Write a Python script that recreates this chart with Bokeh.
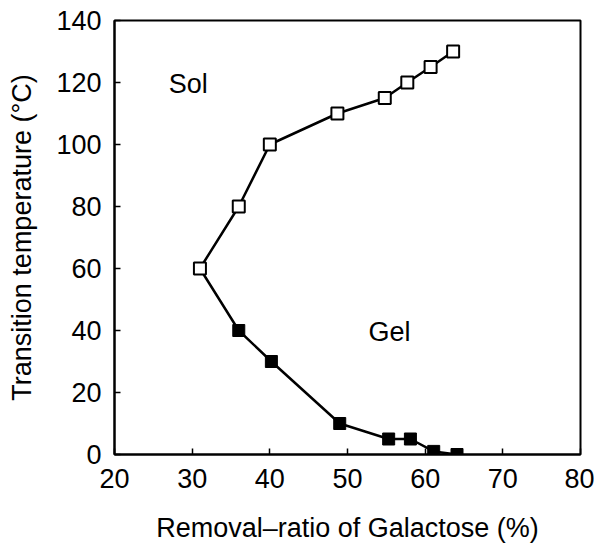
from bokeh.plotting import figure
from bokeh.embed import file_html
from bokeh.resources import INLINE
from bokeh.models import Range1d, FixedTicker
from bokeh.core.properties import value

# Data
sol_x = [31.0, 36.0, 40.0, 48.7, 54.8, 57.7, 60.7, 63.6]
sol_y = [60, 80, 100, 110, 115, 120, 125, 130]
gel_x = [36.0, 40.2, 49.0, 55.3, 58.1, 61.1, 64.1]
gel_y = [40, 30, 10, 5, 5, 1, 0]
x_ticks = [20, 30, 40, 50, 60, 70, 80]
y_ticks = [0, 20, 40, 60, 80, 100, 120, 140]
region_labels = ["Sol", "Gel"]
region_x = [29.5, 55.4]
region_y = [119.5, 39.5]

FONT = "Liberation Sans"
FS = "27px"

p = figure(width=594, height=545, output_backend="svg", toolbar_location=None,
           x_range=Range1d(20, 80), y_range=Range1d(0, 140),
           min_border_left=114, min_border_right=14, min_border_top=20,
           min_border_bottom=90)

p.background_fill_color = "white"
p.border_fill_color = "white"
p.outline_line_color = "black"
p.outline_line_width = 2
p.grid.visible = False

for ax in (p.xaxis[0], p.yaxis[0]):
    ax.major_label_text_font = FONT
    ax.major_label_text_font_size = FS
    ax.major_label_text_color = "black"
    ax.axis_label_text_font = FONT
    ax.axis_label_text_font_size = FS
    ax.axis_label_text_font_style = "normal"
    ax.axis_label_text_color = "black"
    ax.axis_line_color = "black"
    ax.axis_line_width = 2
    ax.major_tick_in = 6
    ax.major_tick_out = 0
    ax.major_tick_line_color = "black"
    ax.major_tick_line_width = 1.5
    ax.minor_tick_line_color = None

p.xaxis[0].ticker = FixedTicker(ticks=x_ticks)
p.yaxis[0].ticker = FixedTicker(ticks=y_ticks)
p.xaxis[0].axis_label = "Removal\u2013ratio of Galactose (%)"
p.yaxis[0].axis_label = "Transition temperature (\u00b0C)"
p.xaxis[0].major_label_standoff = 14
p.yaxis[0].major_label_standoff = 13
p.xaxis[0].axis_label_standoff = 22
p.yaxis[0].axis_label_standoff = 16

line_x = sol_x[::-1] + gel_x
line_y = sol_y[::-1] + gel_y
p.line(line_x, line_y, line_color="black", line_width=2.5)

p.scatter(sol_x, sol_y, marker="square", size=12, fill_color="white",
          line_color="black", line_width=2)
p.scatter(gel_x, gel_y, marker="square", size=12, fill_color="black",
          line_color="black", line_width=1)

p.text(x=region_x, y=region_y, text=region_labels, text_font=value(FONT),
       text_font_size=FS, text_color="black", text_align="center",
       text_baseline="middle")

open("out.html", "w").write(file_html(p, INLINE))
